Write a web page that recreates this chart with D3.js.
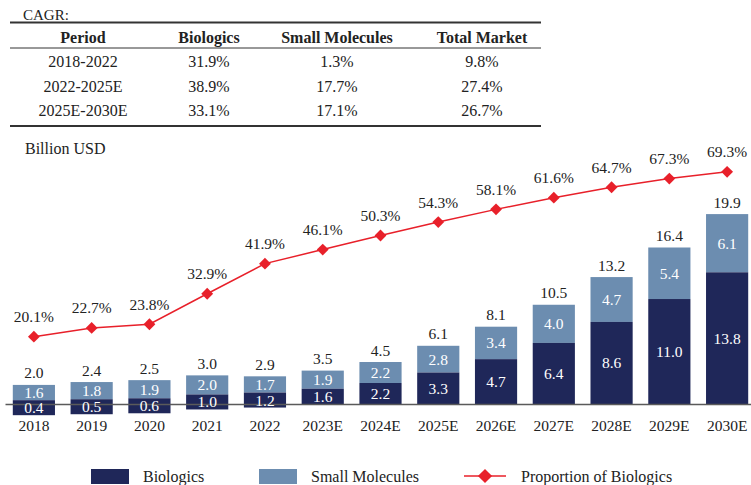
<!DOCTYPE html>
<html>
<head>
<meta charset="utf-8">
<script src="https://cdn.jsdelivr.net/npm/d3@7"></script>
<style>
	body { margin: 0; background: #fff; }
	text { font-family: "Liberation Serif", "Times New Roman", serif; fill: #222; }
</style>
</head>
<body>
<div id="container"></div>
<script>

// chart data
var years = ["2018","2019","2020","2021","2022","2023E","2024E","2025E","2026E","2027E","2028E","2029E","2030E"];
var biologics = [0.4, 0.5, 0.6, 1.0, 1.2, 1.6, 2.2, 3.3, 4.7, 6.4, 8.6, 11.0, 13.8];
var smallMolecules = [1.6, 1.8, 1.9, 2.0, 1.7, 1.9, 2.2, 2.8, 3.4, 4.0, 4.7, 5.4, 6.1];
var totals = [2.0, 2.4, 2.5, 3.0, 2.9, 3.5, 4.5, 6.1, 8.1, 10.5, 13.2, 16.4, 19.9];
var proportion = [20.1, 22.7, 23.8, 32.9, 41.9, 46.1, 50.3, 54.3, 58.1, 61.6, 64.7, 67.3, 69.3];

// CAGR table
var cagrHeader = ["Period", "Biologics", "Small Molecules", "Total Market"];
var periods = ["2018-2022", "2022-2025E", "2025E-2030E"];
var cagrBio = ["31.9%", "38.9%", "33.1%"];
var cagrSmall = ["1.3%", "17.7%", "17.1%"];
var cagrTotal = ["9.8%", "27.4%", "26.7%"];

var legendLabels = ["Biologics", "Small Molecules", "Proportion of Biologics"];

var w = 751, h = 485;
var darkBlue = "#1f2759", lightBlue = "#6c8db0", red = "#e8202a";
var minBar = 15; // short segments are stretched so their label fits
var fs = 15.5;

var svg = d3.select("#container").append("svg").attr("width", w).attr("height", h);

//---- table
var colX = [83, 209, 337, 482];
var tbl = svg.append("g").attr("class", "cagr");

tbl.append("text")
	.attr("x", 23)
	.attr("y", 19.5)
	.style("font-size", "15px")
	.text("CAGR:");

[[22.5, 2], [48, 1], [126, 2]].forEach(function(r){
	tbl.append("line")
		.attr("x1", 10).attr("x2", 541)
		.attr("y1", r[0]).attr("y2", r[0])
		.attr("stroke", "#333")
		.attr("stroke-width", r[1]);
});

tbl.selectAll(".hdr")
	.data(cagrHeader)
	.enter()
	.append("text")
	.attr("class", "hdr")
	.attr("x", function(d, i){ return colX[i]; })
	.attr("y", 43)
	.attr("text-anchor", "middle")
	.style("font-size", "16px")
	.style("font-weight", "bold")
	.text(function(d){ return d; });

var rows = periods.map(function(p, i){ return [p, cagrBio[i], cagrSmall[i], cagrTotal[i]]; });
rows.forEach(function(row, r){
	tbl.selectAll(".row" + r)
		.data(row)
		.enter()
		.append("text")
		.attr("x", function(d, i){ return colX[i]; })
		.attr("y", 67 + r * 24.5)
		.attr("text-anchor", "middle")
		.style("font-size", "16px")
		.text(function(d){ return d; });
});

svg.append("text")
	.attr("x", 25)
	.attr("y", 153.5)
	.style("font-size", "16px")
	.text("Billion USD");

//---- scales
var base = 404;
var x = d3.scaleBand().domain(years).range([5, 756]).paddingInner(0.27).paddingOuter(0.135);
var y = d3.scaleLinear().domain([0, 35]).range([base, 70]);
var yp = d3.scaleLinear().domain([0, 100]).range([base, 69]);

var chart = svg.append("g").attr("class", "chart");

// small molecules (stacked on biologics)
chart.selectAll(".sm")
	.data(years)
	.enter()
	.append("rect")
	.attr("class", "sm")
	.attr("x", function(d){ return x(d); })
	.attr("width", x.bandwidth())
	.attr("y", function(d, i){ return y(biologics[i] + smallMolecules[i]); })
	.attr("height", function(d, i){ return y(biologics[i]) - y(biologics[i] + smallMolecules[i]); })
	.attr("fill", lightBlue);

// biologics
chart.selectAll(".bio")
	.data(years)
	.enter()
	.append("rect")
	.attr("class", "bio")
	.attr("x", function(d){ return x(d); })
	.attr("width", x.bandwidth())
	.attr("y", function(d, i){ return y(biologics[i]); })
	.attr("height", function(d, i){ return Math.max(base - y(biologics[i]), minBar); })
	.attr("fill", darkBlue);

// axis
var xAxis = d3.axisBottom(x).tickSize(0).tickSizeOuter(0).tickPadding(16);
var ax = chart.append("g")
	.attr("transform", "translate(0," + base + ")")
	.call(xAxis);
ax.select(".domain").attr("stroke", "#5a5a5a").attr("stroke-width", 1.5);
ax.selectAll("text")
	.style("font-family", "'Liberation Serif', 'Times New Roman', serif")
	.style("font-size", fs + "px")
	.attr("fill", "#222");

// inner labels
chart.selectAll(".smLbl")
	.data(years)
	.enter()
	.append("text")
	.attr("class", "smLbl")
	.attr("x", function(d){ return x(d) + x.bandwidth() / 2; })
	.attr("y", function(d, i){ return (y(biologics[i] + smallMolecules[i]) + y(biologics[i])) / 2 + 5.5; })
	.attr("text-anchor", "middle")
	.style("font-size", fs + "px")
	.style("fill", "#fff")
	.text(function(d, i){ return smallMolecules[i].toFixed(1); });

chart.selectAll(".bioLbl")
	.data(years)
	.enter()
	.append("text")
	.attr("class", "bioLbl")
	.attr("x", function(d){ return x(d) + x.bandwidth() / 2; })
	.attr("y", function(d, i){ return y(biologics[i]) + Math.max(base - y(biologics[i]), minBar) / 2 + 5.5; })
	.attr("text-anchor", "middle")
	.style("font-size", fs + "px")
	.style("fill", "#fff")
	.text(function(d, i){ return biologics[i].toFixed(1); });

// totals
chart.selectAll(".tot")
	.data(years)
	.enter()
	.append("text")
	.attr("class", "tot")
	.attr("x", function(d){ return x(d) + x.bandwidth() / 2; })
	.attr("y", function(d, i){ return y(biologics[i] + smallMolecules[i]) - 6.5; })
	.attr("text-anchor", "middle")
	.style("font-size", fs + "px")
	.text(function(d, i){ return totals[i].toFixed(1); });

// proportion line
var line = d3.line()
	.x(function(d, i){ return x(years[i]) + x.bandwidth() / 2; })
	.y(function(d){ return yp(d); });

chart.append("path")
	.datum(proportion)
	.attr("d", line)
	.attr("fill", "none")
	.attr("stroke", red)
	.attr("stroke-width", 1.5);

var diamond = d3.symbol().type(d3.symbolSquare).size(70);
chart.selectAll(".pt")
	.data(proportion)
	.enter()
	.append("path")
	.attr("class", "pt")
	.attr("d", diamond)
	.attr("transform", function(d, i){ return "translate(" + (x(years[i]) + x.bandwidth() / 2) + "," + yp(d) + ") rotate(45)"; })
	.attr("fill", red);

chart.selectAll(".pLbl")
	.data(proportion)
	.enter()
	.append("text")
	.attr("class", "pLbl")
	.attr("x", function(d, i){ return x(years[i]) + x.bandwidth() / 2; })
	.attr("y", function(d){ return yp(d) - 14.5; })
	.attr("text-anchor", "middle")
	.style("font-size", fs + "px")
	.text(function(d){ return d.toFixed(1) + "%"; });

//---- legend
var leg = svg.append("g").attr("class", "legend");
[[91, darkBlue], [259, lightBlue]].forEach(function(s){
	leg.append("rect")
		.attr("x", s[0]).attr("y", 469)
		.attr("width", 38).attr("height", 15)
		.attr("fill", s[1]);
});
leg.append("line")
	.attr("x1", 464).attr("x2", 506)
	.attr("y1", 476).attr("y2", 476)
	.attr("stroke", red)
	.attr("stroke-width", 1.5);
leg.append("path")
	.attr("d", d3.symbol().type(d3.symbolSquare).size(100))
	.attr("transform", "translate(485,476) rotate(45)")
	.attr("fill", red);

leg.selectAll(".legTxt")
	.data(legendLabels)
	.enter()
	.append("text")
	.attr("class", "legTxt")
	.attr("x", function(d, i){ return [143, 311, 521][i]; })
	.attr("y", 481.5)
	.style("font-size", "16px")
	.text(function(d){ return d; });

</script>
</body>
</html>
